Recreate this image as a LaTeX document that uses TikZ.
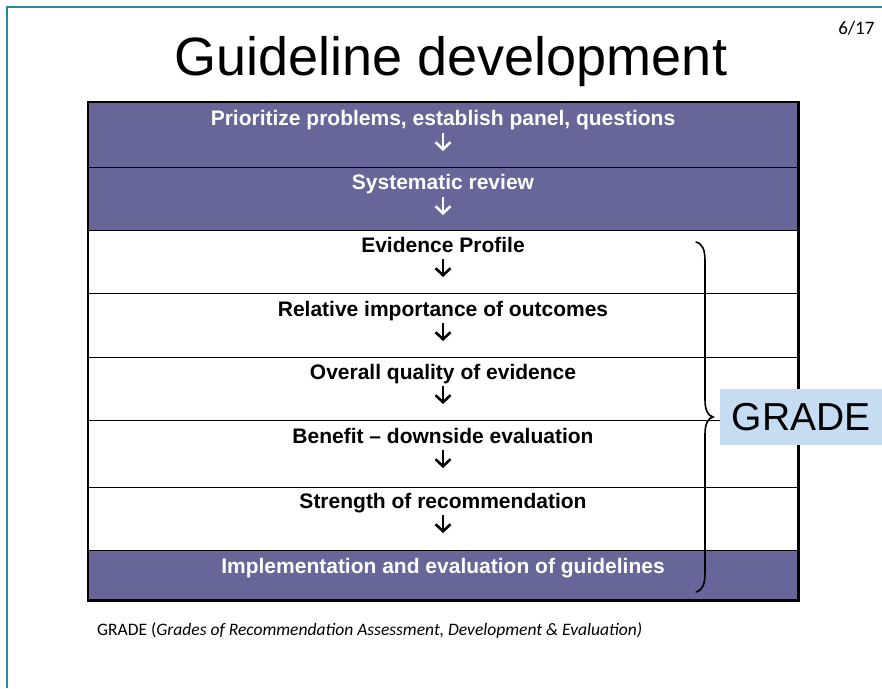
\documentclass[tikz,border=0pt]{standalone}
\usepackage{fontspec}
\setmainfont{Liberation Sans}
\newfontfamily\calfont{Carlito}
\usetikzlibrary{arrows.meta}
\definecolor{rowpurple}{RGB}{102,102,153}
\definecolor{slideteal}{RGB}{40,140,150}
\definecolor{gradeblue}{RGB}{197,220,242}
\tikzset{
  rowbox/.style={draw=black, line width=1.3pt, minimum width=709pt, inner sep=0pt, anchor=north west},
  darkrow/.style={rowbox, fill=rowpurple},
  lightrow/.style={rowbox, fill=white},
  celltext/.style={font=\fontsize{21}{24}\selectfont\bfseries, inner sep=0pt, anchor=base},
  stepdown/.style={line width=2.6pt, -{Straight Barb[length=7pt,width=15pt,line width=2.6pt]}},
}
\begin{document}
\begin{tikzpicture}[x=1pt,y=-1pt]
\useasboundingbox (0,0) rectangle (882,688);
\fill[white] (0,0) rectangle (882,688);
% slide border
\draw[slideteal, line width=1.2pt] (7,688) -- (7,7) -- (882,7);
% page number
\node[font=\calfont\fontsize{19}{22}\selectfont, anchor=base east] (pg) at (878,34) {6/17};
% title
\node[font=\fontsize{54}{60}\selectfont, anchor=base, inner sep=0pt] (title) at (451,75) {Guideline development};
% rows
\node[darkrow, minimum height=65pt] (r1) at (88,102) {};
\node[darkrow, minimum height=63pt] (r2) at (88,167) {};
\node[lightrow, minimum height=63pt] (r3) at (88,230) {};
\node[lightrow, minimum height=64pt] (r4) at (88,293) {};
\node[lightrow, minimum height=63pt] (r5) at (88,357) {};
\node[lightrow, minimum height=67pt] (r6) at (88,420) {};
\node[lightrow, minimum height=63pt] (r7) at (88,487) {};
\node[darkrow, minimum height=49pt] (r8) at (88,550) {};
\draw[line width=2.4pt] (r1.north west) rectangle (r8.south east);
% texts
\node[celltext, text=white] (t1) at (443,125) {Prioritize problems, establish panel, questions};
\node[celltext, text=white] (t2) at (443,189) {Systematic review};
\node[celltext] (t3) at (443,252) {Evidence Profile};
\node[celltext] (t4) at (443,316) {Relative importance of outcomes};
\node[celltext] (t5) at (443,379) {Overall quality of evidence};
\node[celltext] (t6) at (443,443) {Benefit – downside evaluation};
\node[celltext] (t7) at (443,508) {Strength of recommendation};
\node[celltext, text=white] (t8) at (443,573) {Implementation and evaluation of guidelines};
% arrows
\coordinate (a1) at (443,133); \coordinate (b1) at (443,151);
\coordinate (a2) at (443,197); \coordinate (b2) at (443,215);
\coordinate (a3) at (443,259); \coordinate (b3) at (443,277);
\coordinate (a4) at (443,323); \coordinate (b4) at (443,341);
\coordinate (a5) at (443,386); \coordinate (b5) at (443,404);
\coordinate (a6) at (443,450); \coordinate (b6) at (443,468);
\coordinate (a7) at (443,515); \coordinate (b7) at (443,533);
\draw[stepdown, white] (a1) -- (b1);
\draw[stepdown, white] (a2) -- (b2);
\foreach \i in {3,...,7}{\draw[stepdown] (a\i) -- (b\i);}
% brace
\coordinate (bt) at (696,242);
\coordinate (btip) at (713,417);
\coordinate (bb) at (696,592);
\draw[line width=1.6pt, line cap=round]
  (bt) .. controls (703,244) and (705,250) .. (705,262)
  -- (705,400) .. controls (705,410) and (708,416) .. (btip)
  .. controls (708,418) and (705,424) .. (705,434)
  -- (705,572) .. controls (705,584) and (703,590) .. (bb);
% GRADE label
\node[fill=gradeblue, minimum width=162pt, minimum height=56pt, inner sep=0pt, anchor=north west,
      font=\fontsize{39}{42}\selectfont] (grade) at (720,389) {GRADE};
% caption
\node[font=\calfont\fontsize{17.5}{20}\selectfont, anchor=base west, inner sep=0pt] (cap) at (97,635)
  {GRADE (\textit{Grades of Recommendation Assessment, Development \& Evaluation)}};
\end{tikzpicture}
\end{document}
